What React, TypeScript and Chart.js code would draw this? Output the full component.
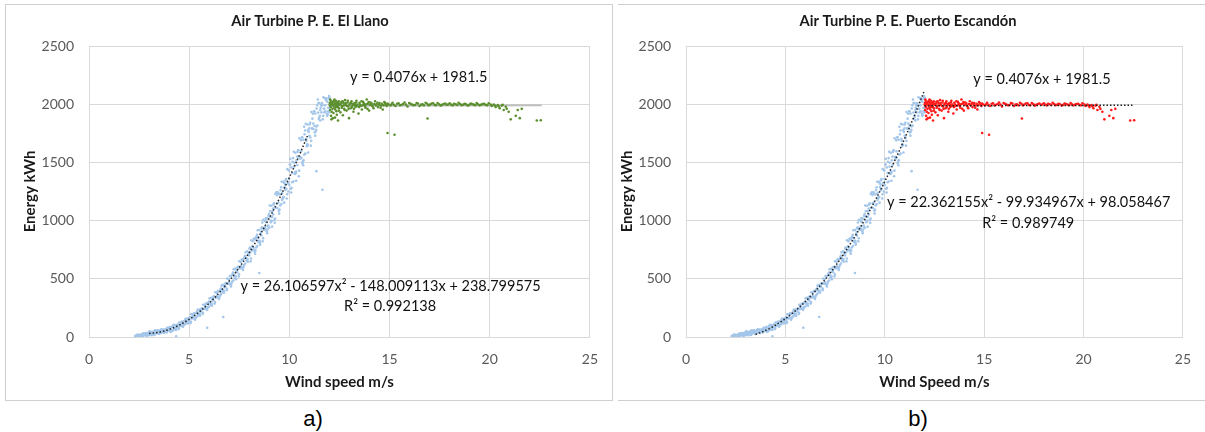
import React, { useEffect, useRef } from 'react';
import { Chart, registerables } from 'chart.js';

Chart.register(...registerables);

const FONT = "Lato, 'Open Sans', 'DejaVu Sans', sans-serif";

// Axis ticks
const X_TICKS = [0, 5, 10, 15, 20, 25];
const Y_TICKS = [0, 500, 1000, 1500, 2000, 2500];

// Ramp region points (wind speed m/s, energy kWh) (shared by both panels)
const rampPoints: [number, number][] = [
  [2.31, 0], [2.36, 12], [2.42, 20], [2.47, 2], [2.52, 3], [2.56, 13], [2.61, 20], [2.67, 0], [2.72, 16], [2.78, 30], [2.83, 33], [2.87, 13], [2.91, 14], [2.96, 35],
  [3.02, 48], [3.07, 24], [3.12, 23], [3.16, 37], [3.21, 44], [3.27, 18], [3.32, 37], [3.38, 55], [3.43, 56], [3.47, 30], [3.51, 29], [3.56, 57], [3.62, 67], [3.67, 43], [3.72, 43], [3.76, 57], [3.81, 65], [3.87, 39], [3.92, 59], [3.98, 77],
  [4.03, 85], [4.07, 48], [4.11, 50], [4.16, 89], [4.22, 104], [4.27, 71], [4.32, 72], [4.36, 92], [4.41, 104], [4.47, 68], [4.52, 97], [4.58, 122], [4.63, 130], [4.67, 93], [4.71, 99], [4.76, 138], [4.82, 156], [4.87, 123], [4.92, 128], [4.96, 148],
  [5.01, 166], [5.07, 120], [5.12, 160], [5.18, 192], [5.23, 202], [5.27, 156], [5.31, 161], [5.36, 210], [5.42, 234], [5.47, 192], [5.52, 197], [5.56, 221], [5.61, 243], [5.67, 198], [5.72, 241], [5.78, 273], [5.83, 285], [5.87, 239], [5.91, 248], [5.96, 297],
  [6.02, 332], [6.07, 278], [6.12, 287], [6.16, 318], [6.21, 345], [6.27, 287], [6.32, 340], [6.38, 380], [6.43, 394], [6.47, 335], [6.51, 344], [6.56, 407], [6.62, 441], [6.67, 387], [6.72, 399], [6.76, 430], [6.81, 459], [6.87, 401], [6.92, 458], [6.98, 498],
  [7.03, 524], [7.07, 446], [7.11, 457], [7.16, 541], [7.22, 582], [7.27, 510], [7.32, 521], [7.36, 563], [7.41, 598], [7.47, 520], [7.52, 591], [7.58, 645], [7.63, 665], [7.67, 587], [7.71, 601], [7.76, 685], [7.82, 728], [7.87, 656], [7.92, 670], [7.96, 712],
  [8.01, 760], [8.05, 726], [8.07, 650], [8.12, 746], [8.15, 780], [8.18, 822], [8.23, 843], [8.25, 749], [8.27, 732], [8.31, 743], [8.34, 854], [8.36, 862], [8.42, 917], [8.44, 823], [8.47, 815], [8.52, 826], [8.54, 808], [8.56, 885], [8.61, 933], [8.65, 984], [8.67, 823], [8.72, 922], [8.75, 930], [8.78, 998], [8.83, 1020], [8.85, 986], [8.87, 909], [8.91, 923], [8.94, 957], [8.96, 1042],
  [9.02, 1130], [9.05, 1082], [9.07, 986], [9.12, 996], [9.14, 1032], [9.16, 1080], [9.21, 1137], [9.25, 1005], [9.27, 981], [9.32, 1111], [9.35, 1243], [9.38, 1219], [9.43, 1240], [9.45, 1156], [9.47, 1084], [9.51, 1094], [9.54, 1226], [9.56, 1262], [9.62, 1334], [9.64, 1178], [9.67, 1190], [9.72, 1202], [9.74, 1322], [9.76, 1286], [9.81, 1346], [9.85, 1274], [9.87, 1190], [9.92, 1322], [9.95, 1250], [9.98, 1430],
  [10.03, 1482], [10.05, 1530], [10.07, 1274], [10.11, 1281], [10.14, 1409], [10.16, 1505], [10.22, 1592], [10.25, 1496], [10.27, 1400], [10.32, 1406], [10.34, 1422], [10.36, 1518], [10.41, 1589], [10.45, 1605], [10.47, 1381], [10.52, 1547], [10.55, 1531], [10.58, 1691], [10.63, 1716], [10.65, 1492], [10.67, 1508], [10.71, 1518], [10.74, 1806], [10.76, 1742], [10.82, 1831], [10.85, 1687], [10.87, 1639], [10.92, 1649], [10.94, 1777], [10.96, 1761],
  [11.01, 1826], [11.05, 1714], [11.07, 1644], [11.12, 1792], [11.15, 1876], [11.18, 1918], [11.23, 1940], [11.25, 1814], [11.27, 1758], [11.31, 1766], [11.34, 1780], [11.36, 1962], [11.42, 2040], [11.45, 2010], [11.47, 1872], [11.52, 1900], [11.54, 1950], [11.56, 1970], [11.61, 2000], [11.65, 1990], [11.67, 1870], [11.72, 1960], [11.75, 1930], [11.78, 2050], [11.83, 2040], [11.85, 2030], [11.87, 1920], [11.91, 1910], [11.94, 1970], [11.96, 2050], [11.99, 1930], [12.0, 2060], [12.0, 1970],
  [4.35, 5], [5.9, 80], [6.7, 172], [8.5, 550], [11.35, 1425], [11.65, 1265],
];

// More ramp points filling the dense band
const rampPointsDense: [number, number][] = [
  [2.30, 8], [2.34, 0], [2.39, 15], [2.40, 0], [2.44, 8], [2.49, 3], [2.50, 19], [2.54, 0], [2.59, 16], [2.60, 10], [2.64, 22], [2.69, 5], [2.70, 32], [2.74, 17], [2.79, 21], [2.80, 16], [2.84, 33], [2.89, 10], [2.90, 31], [2.94, 19], [2.99, 38],
  [3.00, 16], [3.04, 32], [3.09, 26], [3.10, 45], [3.14, 15], [3.19, 41], [3.20, 30], [3.24, 46], [3.29, 24], [3.30, 57], [3.34, 37], [3.39, 43], [3.40, 34], [3.44, 56], [3.49, 26], [3.50, 51], [3.54, 35], [3.59, 61], [3.60, 35], [3.64, 51], [3.69, 45], [3.70, 65], [3.74, 35], [3.79, 61], [3.80, 51], [3.84, 67], [3.89, 45], [3.90, 79], [3.94, 59], [3.99, 65],
  [4.00, 54], [4.04, 85], [4.09, 43], [4.10, 80], [4.14, 58], [4.19, 94], [4.20, 59], [4.24, 82], [4.29, 73], [4.30, 103], [4.34, 61], [4.39, 97], [4.40, 85], [4.44, 107], [4.49, 76], [4.50, 125], [4.54, 97], [4.59, 106], [4.60, 99], [4.64, 130], [4.69, 88], [4.70, 129], [4.74, 107], [4.79, 143], [4.80, 111], [4.84, 134], [4.89, 125], [4.90, 159], [4.94, 117], [4.99, 153],
  [5.00, 142], [5.04, 170], [5.09, 131], [5.10, 196], [5.14, 161], [5.19, 171], [5.20, 163], [5.24, 202], [5.29, 149], [5.30, 200], [5.34, 172], [5.39, 217], [5.40, 178], [5.44, 206], [5.49, 195], [5.50, 235], [5.54, 183], [5.59, 228], [5.60, 219], [5.64, 247], [5.69, 208], [5.70, 277], [5.74, 242], [5.79, 252], [5.80, 246], [5.84, 285], [5.89, 232], [5.90, 287], [5.94, 259], [5.99, 304],
  [6.00, 260], [6.04, 296], [6.09, 282], [6.10, 336], [6.14, 269], [6.19, 327], [6.20, 314], [6.24, 350], [6.29, 300], [6.30, 385], [6.34, 340], [6.39, 353], [6.40, 344], [6.44, 394], [6.49, 326], [6.50, 394], [6.54, 358], [6.59, 416], [6.60, 369], [6.64, 405], [6.69, 391], [6.70, 448], [6.74, 381], [6.79, 439], [6.80, 428], [6.84, 464], [6.89, 414], [6.90, 503], [6.94, 458], [6.99, 471],
  [7.00, 458], [7.04, 524], [7.09, 434], [7.10, 523], [7.14, 475], [7.19, 553], [7.20, 486], [7.24, 534], [7.29, 516], [7.30, 587], [7.34, 497], [7.39, 575], [7.40, 556], [7.44, 604], [7.49, 538], [7.50, 651], [7.54, 591], [7.59, 609], [7.60, 599], [7.64, 665], [7.69, 575], [7.70, 667], [7.74, 619], [7.79, 697], [7.80, 632], [7.84, 680], [7.89, 662], [7.90, 736], [7.94, 646], [7.99, 724],
  [8.00, 700], [8.04, 768], [8.09, 675], [8.10, 831], [8.14, 746], [8.19, 771], [8.20, 749], [8.24, 843], [8.29, 715], [8.30, 837], [8.34, 769], [8.39, 879], [8.40, 781], [8.44, 849], [8.49, 823], [8.50, 919], [8.54, 792], [8.59, 902], [8.60, 873], [8.64, 942], [8.69, 848], [8.70, 1007], [8.74, 922], [8.79, 947], [8.80, 926], [8.84, 1020], [8.89, 892], [8.90, 1017], [8.94, 949], [8.99, 1059],
  [9.00, 938], [9.04, 1034], [9.09, 998], [9.10, 1128], [9.14, 948], [9.19, 1104], [9.20, 1053], [9.24, 1149], [9.29, 1017], [9.30, 1231], [9.34, 1111], [9.39, 1147], [9.40, 1108], [9.44, 1240], [9.49, 1060], [9.50, 1226], [9.54, 1130], [9.59, 1286], [9.60, 1142], [9.64, 1238], [9.69, 1202], [9.70, 1334], [9.74, 1154], [9.79, 1310], [9.80, 1262], [9.84, 1358], [9.89, 1226], [9.90, 1442], [9.94, 1322], [9.99, 1358],
  [10.00, 1306], [10.04, 1482], [10.09, 1242], [10.10, 1457], [10.14, 1329], [10.19, 1537], [10.20, 1336], [10.24, 1464], [10.29, 1416], [10.30, 1582], [10.34, 1342], [10.39, 1550], [10.40, 1477], [10.44, 1605], [10.49, 1429], [10.50, 1707], [10.54, 1547], [10.59, 1595], [10.60, 1540], [10.64, 1716], [10.69, 1476], [10.70, 1694], [10.74, 1566], [10.79, 1774], [10.80, 1575], [10.84, 1703], [10.89, 1655], [10.90, 1825], [10.94, 1585], [10.99, 1793],
  [11.00, 1728], [11.04, 1840], [11.09, 1686], [11.10, 1932], [11.14, 1792], [11.19, 1834], [11.20, 1786], [11.24, 1940], [11.29, 1730], [11.30, 1920], [11.34, 1808], [11.39, 1990], [11.40, 1816], [11.44, 1928], [11.49, 1886], [11.50, 2010], [11.54, 1860], [11.59, 1990], [11.60, 1930], [11.64, 2010], [11.69, 1900], [11.70, 2060], [11.74, 1960], [11.79, 1990], [11.80, 1940], [11.84, 2050], [11.89, 1900], [11.90, 2020], [11.94, 1940], [11.98, 2070],
];

// Rated-power plateau points (wind speed m/s, energy kWh)
const plateauPoints: [number, number][] = [
  [12.02, 2010], [12.05, 1985], [12.03, 1950], [12.08, 1900], [12.06, 2030], [12.1, 1870], [12.12, 2000], [12.15, 1960], [12.18, 2020], [12.2, 1925], [12.22, 1990], [12.25, 2040], [12.28, 1885], [12.3, 2005], [12.33, 1975], [12.35, 1940], [12.38, 2015], [12.4, 1995], [12.43, 1860], [12.46, 2025], [12.48, 1965],
  [12.52, 2000], [12.55, 1930], [12.6, 2020], [12.63, 1985], [12.67, 1905], [12.7, 2010], [12.74, 1960], [12.78, 2035], [12.82, 1995], [12.86, 1945], [12.9, 2015], [12.94, 1980], [12.98, 1880], [13.02, 2005], [13.06, 1965], [13.1, 2025], [13.15, 1990], [13.2, 1935], [13.25, 2010], [13.3, 1975], [13.35, 2030], [13.4, 1998], [13.45, 1920],
  [13.5, 2012], [13.56, 1985], [13.62, 1955], [13.68, 2020], [13.74, 1995], [13.8, 1970], [13.86, 2040], [13.92, 2005], [13.98, 1945], [14.05, 2015], [14.12, 1990], [14.2, 1965], [14.28, 2025], [14.35, 2000], [14.42, 1975], [14.5, 2010], [14.58, 1988], [14.66, 1955], [14.74, 2018], [14.82, 1995], [14.9, 2005],
  [14.9, 1752], [15.25, 1738],
  [15.05, 1990], [15.15, 2012], [15.3, 1985], [15.45, 2008], [15.6, 1995], [15.75, 2015], [15.9, 1980], [16.05, 2003], [16.2, 1992], [16.35, 2010], [16.5, 1985], [16.65, 2000], [16.8, 2012], [16.95, 1990], [16.9, 1877], [17.1, 2005], [17.25, 1993], [17.4, 2010], [17.55, 1988], [17.7, 2002], [17.85, 1995], [18.0, 2008], [18.15, 1990], [18.3, 2000], [18.45, 2012], [18.6, 1992], [18.75, 2004], [18.9, 1988], [19.05, 2006], [19.2, 1996], [19.35, 2010], [19.5, 1990], [19.65, 2002], [19.8, 1994], [19.95, 2008],
  [20.1, 1985], [20.2, 1998], [20.3, 1975], [20.4, 1992], [20.5, 1965], [20.6, 1988], [20.7, 1950], [20.8, 1978], [20.95, 1935], [21.05, 1870], [21.3, 1900], [21.4, 1950], [21.5, 1880], [21.6, 1960], [22.35, 1860], [22.55, 1862],
];

const plateauPointsDense: [number, number][] = [
  [12.01, 1995], [12.04, 2040], [12.07, 1975], [12.09, 2015], [12.11, 1935], [12.14, 2005], [12.17, 1880], [12.19, 1990], [12.21, 2025], [12.24, 1970], [12.27, 2008], [12.29, 1955], [12.32, 2030], [12.34, 1990], [12.37, 1910], [12.39, 2000], [12.42, 1975], [12.45, 2012], [12.47, 1945], [12.5, 1995],
  [12.57, 2005], [12.62, 1970], [12.66, 2025], [12.72, 1990], [12.76, 1950], [12.8, 2008], [12.88, 1985], [12.92, 2030], [12.96, 1960], [13.0, 1995], [13.08, 2010], [13.12, 1975], [13.18, 2002], [13.22, 1960], [13.28, 1992], [13.33, 2015], [13.38, 1985], [13.48, 1975], [13.53, 1998], [13.6, 2025], [13.66, 1990], [13.72, 2008], [13.78, 1985], [13.84, 2000], [13.9, 1960], [13.96, 2018],
  [14.02, 1995], [14.1, 2008], [14.16, 1980], [14.24, 2002], [14.32, 1990], [14.4, 2012], [14.48, 1995], [14.55, 1970], [14.62, 2004], [14.7, 1992], [14.78, 2010], [14.86, 1985], [14.95, 1998],
  [15.1, 2000], [15.22, 1995], [15.38, 2004], [15.52, 1990], [15.68, 2002], [15.82, 1996], [15.98, 2010], [16.12, 1998], [16.28, 1993], [16.42, 2005], [16.58, 1996], [16.72, 1990], [16.88, 2004], [17.02, 1996], [17.18, 2008], [17.32, 1992], [17.48, 2000], [17.62, 1994], [17.78, 2006], [17.92, 1998],
  [18.08, 1996], [18.22, 2004], [18.38, 1994], [18.52, 2002], [18.68, 1996], [18.82, 2000], [18.98, 1994], [19.12, 2002], [19.28, 1992], [19.42, 2000], [19.58, 1996], [19.72, 2004], [19.88, 1990], [20.05, 1996], [20.25, 1988], [20.45, 1980], [20.65, 1994], [20.85, 1960],
];

// Trend lines
const llanoQuadX = [3.0, 3.5, 4.0, 4.5, 5.0, 5.5, 6.0, 6.5, 7.0, 7.5, 8.0, 8.5, 9.0, 9.5, 10.0, 10.5, 10.9];
const llanoQuadY = [30, 41, 65, 102, 152, 215, 291, 380, 482, 597, 726, 867, 1022, 1189, 1370, 1563, 1727];
const llanoLinX = [12.0, 22.6];
const llanoLinY = [1986, 1991];

const escQuadX = [3.5, 4.0, 4.5, 5.0, 5.5, 6.0, 6.5, 7.0, 7.5, 8.0, 8.5, 9.0, 9.5, 10.0, 10.5, 11.0, 11.5, 12.0];
const escQuadY = [22, 56, 101, 157, 225, 303, 393, 494, 606, 730, 864, 1010, 1167, 1335, 1514, 1704, 1906, 2119];
const escLinX = [12.0, 22.5];
const escLinY = [1986, 1991];

const zip = (xs: number[], ys: number[]) => xs.map((x, i) => ({ x, y: ys[i] }));
const toXY = (...lists: [number, number][][]) => lists.flat().map(([x, y]) => ({ x, y }));

type Note = { text: string; x: number; y: number };

const textPlugin = {
  id: 'texts',
  afterDraw(chart: any, _args: any, opts: any) {
    const ctx = chart.ctx;
    ctx.save();
    ctx.textAlign = 'center';
    ctx.textBaseline = 'middle';
    ctx.fillStyle = '#1a1a1a';
    ctx.font = `bold 14.7px ${FONT}`;
    ctx.fillText(opts.title, opts.titleX, opts.titleY);
    ctx.font = `14.5px ${FONT}`;
    ctx.fillStyle = '#111111';
    (opts.notes as Note[]).forEach((n) => {
      ctx.fillText(n.text, chart.scales.x.getPixelForValue(n.x), chart.scales.y.getPixelForValue(n.y));
    });
    ctx.restore();
  },
};

function buildConfig(p: any) {
  return {
    type: 'scatter',
    data: { datasets: p.datasets },
    plugins: [textPlugin],
    options: {
      animation: false,
      responsive: false,
      devicePixelRatio: 1,
      events: [],
      layout: { padding: { top: 42, right: p.padRight, bottom: 0, left: 0 } },
      plugins: {
        legend: { display: false },
        tooltip: { enabled: false },
        texts: { title: p.title, titleX: p.titleX, titleY: 17.5, notes: p.notes },
      },
      scales: {
        x: {
          type: 'linear',
          min: 0,
          max: 25,
          afterBuildTicks: (s: any) => { s.ticks = X_TICKS.map((v) => ({ value: v })); },
          afterFit: (s: any) => { s.height = 63; },
          ticks: { padding: 14, color: '#595959', font: { size: 14, family: FONT }, callback: (v: any) => String(v) },
          grid: { color: '#d9d9d9', lineWidth: 1, drawTicks: false },
          border: { color: '#d9d9d9' },
          title: { display: true, text: p.xTitle, color: '#1a1a1a', font: { size: 15, weight: 'bold', family: FONT }, padding: { top: 0, bottom: 9 } },
        },
        y: {
          type: 'linear',
          min: 0,
          max: 2500,
          afterBuildTicks: (s: any) => { s.ticks = Y_TICKS.map((v) => ({ value: v })); },
          afterFit: (s: any) => { s.width = p.yWidth; },
          ticks: { padding: 15, color: '#595959', font: { size: 14, family: FONT }, callback: (v: any) => String(v) },
          grid: { color: '#d9d9d9', lineWidth: 1, drawTicks: false },
          border: { color: '#d9d9d9' },
          title: { display: true, text: 'Energy kWh', color: '#1a1a1a', font: { size: 15, weight: 'bold', family: FONT }, padding: { top: p.yTitlePad, bottom: 0 } },
        },
      },
    },
  };
}

const pointStyle = (color: string) => ({
  showLine: false,
  pointRadius: 1.3,
  pointBorderWidth: 0,
  pointBackgroundColor: color,
  pointBorderColor: color,
  backgroundColor: color,
  borderColor: color,
});

const dotted = {
  showLine: true,
  pointRadius: 0,
  borderColor: '#222222',
  borderWidth: 1.5,
  borderDash: [1.5, 2],
  cubicInterpolationMode: 'monotone',
  fill: false,
};

const BLUE = '#a3c6ea';

const panelA = {
  title: 'Air Turbine P. E. El Llano',
  titleX: 305,
  xTitle: 'Wind speed m/s',
  yWidth: 84,
  yTitlePad: 16,
  padRight: 17,
  notes: [
    { text: 'y = 0.4076x + 1981.5', x: 16.46, y: 2232 },
    { text: 'y = 26.106597x\u00B2 - 148.009113x + 238.799575', x: 15.05, y: 438 },
    { text: 'R\u00B2 = 0.992138', x: 15.03, y: 266 },
  ],
  datasets: [
    { ...dotted, data: zip(llanoQuadX, llanoQuadY) },
    { ...pointStyle('#5b8f2e'), data: toXY(plateauPoints, plateauPointsDense) },
    { ...pointStyle(BLUE), data: toXY(rampPoints, rampPointsDense) },
    { showLine: true, pointRadius: 0, borderColor: '#bfbfbf', borderWidth: 2, fill: false, data: zip(llanoLinX, llanoLinY) },
  ],
};

const panelB = {
  title: 'Air Turbine P. E. Puerto Escand\u00F3n',
  titleX: 290,
  xTitle: 'Wind Speed m/s',
  yWidth: 68,
  yTitlePad: 0,
  padRight: 13,
  notes: [
    { text: 'y = 0.4076x + 1981.5', x: 17.91, y: 2215 },
    { text: 'y = 22.362155x\u00B2 - 99.934967x + 98.058467', x: 17.24, y: 1159 },
    { text: 'R\u00B2 = 0.989749', x: 17.22, y: 979 },
  ],
  datasets: [
    { ...dotted, data: zip(escQuadX, escQuadY) },
    { ...dotted, cubicInterpolationMode: 'default', data: zip(escLinX, escLinY) },
    { ...pointStyle('#ff1a1a'), data: toXY(plateauPoints, plateauPointsDense) },
    { ...pointStyle(BLUE), data: toXY(rampPoints, rampPointsDense) },
  ],
};

function Panel({ cfg, left, width }: { cfg: any; left: number; width: number }) {
  const ref = useRef<HTMLCanvasElement>(null);
  useEffect(() => {
    const chart = new Chart(ref.current as HTMLCanvasElement, buildConfig(cfg) as any);
    return () => chart.destroy();
  }, []);
  return (
    <canvas
      ref={ref}
      width={width}
      height={396}
      style={{ position: 'absolute', left, top: 4, width, height: 396, display: 'block' }}
    />
  );
}

export default function App() {
  const line = '#cfcfcf';
  const lbl = { position: 'absolute' as const, top: 405, width: 60, textAlign: 'center' as const, font: "22px 'Liberation Sans', Arial, sans-serif", lineHeight: '28px', color: '#000' };
  return (
    <div style={{ position: 'absolute', left: 0, top: 0, width: 1205, height: 432, background: '#ffffff', overflow: 'hidden' }}>
      <Panel cfg={panelA} left={5} width={607} />
      <Panel cfg={panelB} left={618} width={587} />
      <div style={{ position: 'absolute', left: 5, top: 4, width: 608, height: 397, border: `1px solid ${line}`, boxSizing: 'border-box', pointerEvents: 'none' }} />
      <div style={{ position: 'absolute', left: 618, top: 4, width: 587, height: 1, background: line }} />
      <div style={{ position: 'absolute', left: 618, top: 400, width: 587, height: 1, background: line }} />
      <div style={{ ...lbl, left: 283 }}>a)</div>
      <div style={{ ...lbl, left: 888 }}>b)</div>
    </div>
  );
}
